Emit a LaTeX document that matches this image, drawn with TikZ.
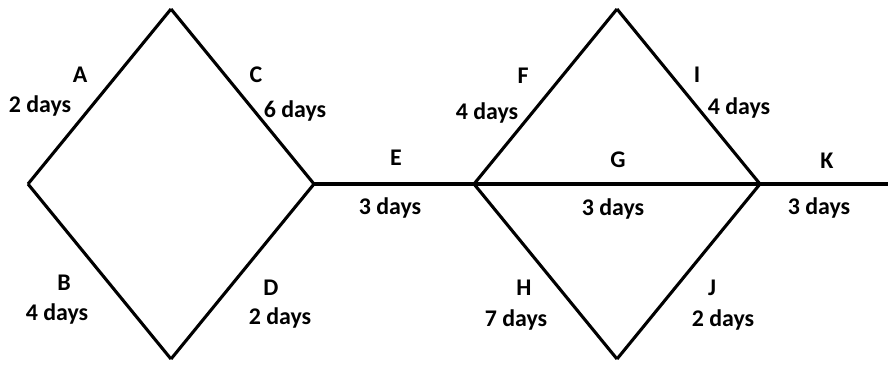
\documentclass[tikz,border=0pt]{standalone}
\usepackage{fontspec}
\setmainfont{Carlito}
\usepackage{tikz}
\usetikzlibrary{positioning}

\begin{document}
\begin{tikzpicture}[x=0.025cm, y=-0.025cm,
  edge/.style={black, line width=2.2pt, line join=miter},
  lbl/.style={anchor=base, inner sep=0pt, font=\fontsize{17}{19}\selectfont\bfseries}]
\useasboundingbox (0,0) rectangle (888,364);

% Vertices
\coordinate (v1) at (28,184);
\coordinate (v2) at (171,9);
\coordinate (v3) at (314,184);
\coordinate (v4) at (171,359);
\coordinate (v5) at (474,184);
\coordinate (v6) at (617,9);
\coordinate (v7) at (760,184);
\coordinate (v8) at (617,359);
\coordinate (v9) at (888,184);

% Left diamond
\draw[edge] (v1) -- (v2);
\draw[edge] (v2) -- (v3);
\draw[edge] (v1) -- (v4);
\draw[edge] (v4) -- (v3);
% Middle link
\draw[edge] (v3) -- (v5);
% Right diamond
\draw[edge] (v5) -- (v6);
\draw[edge] (v6) -- (v7);
\draw[edge] (v5) -- (v7);
\draw[edge] (v5) -- (v8);
\draw[edge] (v8) -- (v7);
% Last link
\draw[edge] (v7) -- (v9);

% Labels
\node[lbl] (A) at (80,82) {A};
\node[lbl] (Ad) at (40,112) {2 days};
\node[lbl] (C) at (256,82) {C};
\node[lbl] (Cd) at (295,117) {6 days};
\node[lbl] (E) at (396,165) {E};
\node[lbl] (Ed) at (390,214) {3 days};
\node[lbl] (F) at (523,83) {F};
\node[lbl] (Fd) at (487,119) {4 days};
\node[lbl] (G) at (618,167) {G};
\node[lbl] (Gd) at (613,215) {3 days};
\node[lbl] (I) at (697,82) {I};
\node[lbl] (Id) at (739,114) {4 days};
\node[lbl] (K) at (827,168) {K};
\node[lbl] (Kd) at (819,214) {3 days};
\node[lbl] (B) at (64,290) {B};
\node[lbl] (Bd) at (57,320) {4 days};
\node[lbl] (D) at (271,295) {D};
\node[lbl] (Dd) at (280,324) {2 days};
\node[lbl] (H) at (524,295) {H};
\node[lbl] (Hd) at (516,326) {7 days};
\node[lbl] (J) at (712,295) {J};
\node[lbl] (Jd) at (723,326) {2 days};
\end{tikzpicture}
\end{document}
